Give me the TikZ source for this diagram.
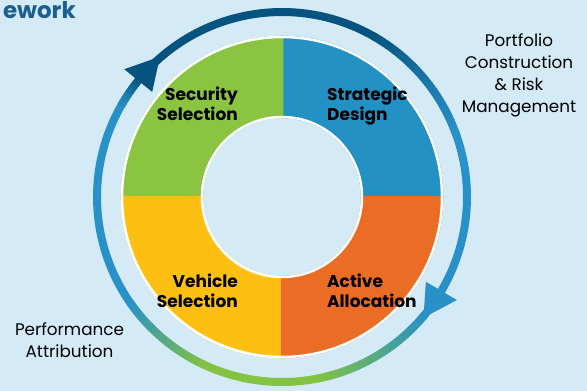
\documentclass[tikz,border=0pt]{standalone}
\usepackage{fontspec}
\usetikzlibrary{calc}
\setmainfont{Poppins}
\definecolor{bg}{HTML}{D4EBF7}
\definecolor{dkb}{HTML}{06537F}
\definecolor{ltb}{HTML}{2891C7}
\definecolor{grn}{HTML}{84C341}
\definecolor{secg}{HTML}{8AC441}
\definecolor{secb}{HTML}{2391C4}
\definecolor{seco}{HTML}{EB6D25}
\definecolor{secy}{HTML}{FDBF12}
\definecolor{ttl}{HTML}{1A5F90}
\tikzset{
  ring/.style={line width=8pt},
  sector/.style={draw=white, line width=2.5pt},
  lbl/.style={font=\fontsize{17}{20}\selectfont\bfseries, inner sep=0pt},
  side/.style={font=\fontsize{16.8}{22}\selectfont, inner sep=0pt, align=center},
}
\begin{document}
\begin{tikzpicture}[x=1pt,y=-1pt]
\fill[bg] (0,0) rectangle (587,391);
\useasboundingbox (0,0) rectangle (587,391);
\coordinate (C) at (282,197);
% title fragment
\node[font=\fontsize{23}{26}\selectfont\bfseries, text=ttl, anchor=base east, inner sep=0pt] (title) at (76,18) {ework};
% ring
\draw[ring,dkb] (C) ++(-59.5:185) arc[start angle=-59.5,end angle=-140.5,radius=185];
\foreach \a in {20,...,59}{\pgfmathtruncatemacro\p{(\a-20)/40*100}
  \draw[ring,draw=dkb!\p!ltb] (C) ++(-\a:185) arc[start angle=-\a,end angle=-\a-1.4,radius=185];}
\draw[ring,ltb] (C) ++(40.5:185) arc[start angle=40.5,end angle=-20.5,radius=185];
\foreach \a in {-80,...,-41}{\pgfmathtruncatemacro\p{(-40-\a)/40*100}
  \draw[ring,draw=grn!\p!ltb] (C) ++(-\a:185) arc[start angle=-\a,end angle=-\a-1.4,radius=185];}
\draw[ring,grn] (C) ++(115.5:185) arc[start angle=115.5,end angle=79.5,radius=185];
\foreach \a in {-145,...,-116}{\pgfmathtruncatemacro\p{(-115-\a)/30*100}
  \draw[ring,draw=ltb!\p!grn] (C) ++(-\a:185) arc[start angle=-\a,end angle=-\a-1.4,radius=185];}
\draw[ring,ltb] (C) ++(210.5:185) arc[start angle=210.5,end angle=144.5,radius=185];
\foreach \a in {-220,...,-211}{\pgfmathtruncatemacro\p{(-210-\a)/10*100}
  \draw[ring,draw=dkb!\p!ltb] (C) ++(-\a:185) arc[start angle=-\a,end angle=-\a-1.4,radius=185];}
% arrowheads
\fill[dkb] ($(C)+(-141:167)$) -- ($(C)+(-141:203)$) -- ($(C)+(-131:186)$) -- cycle;
\fill[ltb] ($(C)+(30.5:167)$) -- ($(C)+(30.5:203)$) -- ($(C)+(40.5:186)$) -- cycle;
% donut
\fill[sector,secb] (C) ++(0:160) arc[start angle=0,end angle=-90,radius=160] -- ($(C)+(-90:80)$) arc[start angle=-90,end angle=0,radius=80] -- cycle;
\fill[sector,secg] (C) ++(-90:160) arc[start angle=-90,end angle=-180,radius=160] -- ($(C)+(-180:80)$) arc[start angle=-180,end angle=-90,radius=80] -- cycle;
\fill[sector,secy] (C) ++(180:160) arc[start angle=180,end angle=90,radius=160] -- ($(C)+(90:80)$) arc[start angle=90,end angle=180,radius=80] -- cycle;
\fill[sector,seco] (C) ++(90:160) arc[start angle=90,end angle=0,radius=160] -- ($(C)+(0:80)$) arc[start angle=0,end angle=90,radius=80] -- cycle;
\draw[sector] (C) circle[radius=160];
\draw[sector] (C) circle[radius=80];
% labels (base anchor = baseline of last line)
\node[lbl, align=right, anchor=base east] (sec) at (238,120) {Security\\Selection};
\node[lbl, align=left, anchor=base west] (str) at (327,120) {Strategic\\Design};
\node[lbl, align=right, anchor=base east] (veh) at (238,307) {Vehicle\\Selection};
\node[lbl, align=left, anchor=base west] (act) at (327,307) {Active\\Allocation};
\node[side, anchor=base] (pc) at (519,112) {Portfolio\\Construction\\\& Risk\\Management};
\node[side, anchor=base] (pa) at (69.5,357) {Performance\\Attribution};
\end{tikzpicture}
\end{document}
